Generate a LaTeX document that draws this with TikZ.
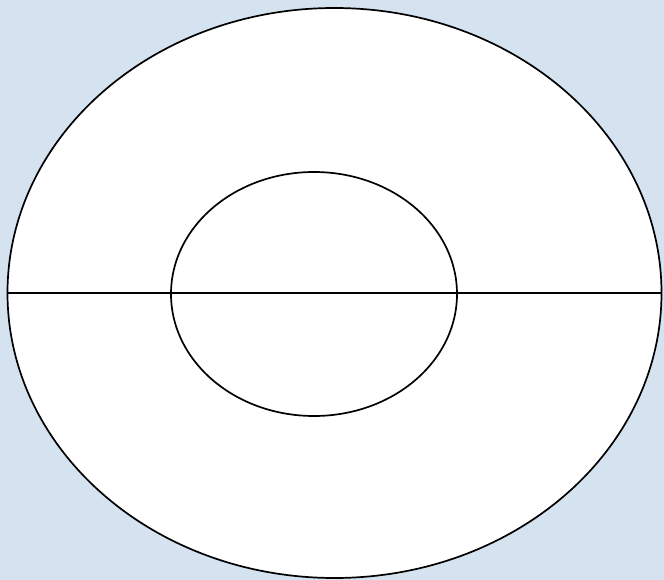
\documentclass[tikz,border=0pt]{standalone}
\usetikzlibrary{shapes.geometric}
\begin{document}
\begin{tikzpicture}[x=1pt,y=-1pt,
  ring/.style={draw=black,line width=1.7pt,fill=white}]
\definecolor{bgblue}{HTML}{D5E3F1}
\fill[bgblue] (0,0) rectangle (664,580);
\useasboundingbox (0,0) rectangle (664,580);
\node[ring,ellipse,minimum width=654pt,minimum height=570pt,inner sep=0pt] (outer) at (334.5,293) {};
\node[ring,ellipse,minimum width=286pt,minimum height=244pt,inner sep=0pt,fill=none] (inner) at (314,294) {};
\draw[line width=1.7pt] (outer.west) -- (outer.east);
\end{tikzpicture}
\end{document}
